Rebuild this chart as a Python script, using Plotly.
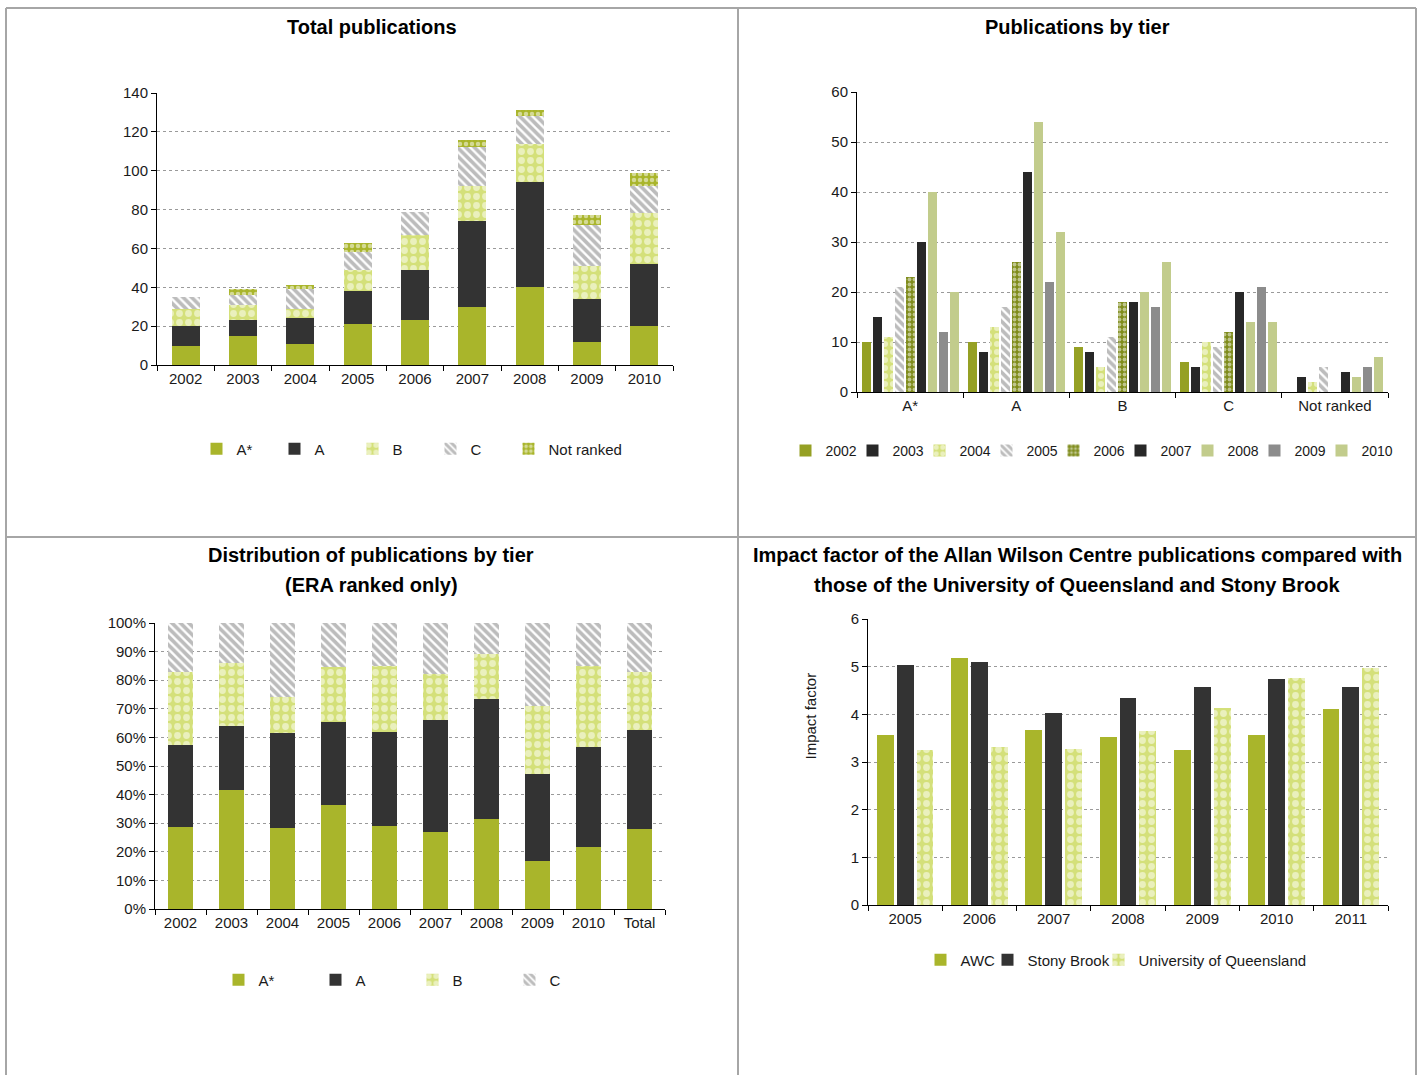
import plotly.graph_objects as go

# ---- data ----
years = ["2002", "2003", "2004", "2005", "2006", "2007", "2008", "2009", "2010"]
tiers = ["A*", "A", "B", "C", "Not ranked"]

a_star = [10, 15, 11, 21, 23, 30, 40, 12, 20]
a_tier = [10, 8, 13, 17, 26, 44, 54, 22, 32]
b_tier = [9, 8, 5, 11, 18, 18, 20, 17, 26]
c_tier = [6, 5, 10, 9, 12, 20, 14, 21, 14]
not_ranked = [0, 3, 2, 5, 0, 4, 3, 5, 7]

dist_cats = years + ["Total"]
pct_a_star = [28.6, 41.7, 28.2, 36.2, 29.1, 26.8, 31.3, 16.7, 21.7, 28.0]
pct_a = [28.6, 22.2, 33.3, 29.3, 32.9, 39.3, 42.2, 30.6, 34.8, 34.7]
pct_b = [25.7, 22.2, 12.8, 19.0, 22.8, 16.1, 15.6, 23.6, 28.3, 20.3]
pct_c = [17.1, 13.9, 25.7, 15.5, 15.2, 17.8, 10.9, 29.1, 15.2, 17.0]

if_years = ["2005", "2006", "2007", "2008", "2009", "2010", "2011"]
awc = [3.56, 5.19, 3.68, 3.53, 3.25, 3.56, 4.12]
stony = [5.03, 5.10, 4.03, 4.34, 4.57, 4.74, 4.57]
uq = [3.25, 3.32, 3.28, 3.65, 4.13, 4.77, 4.97]

# ---- page geometry (pixels of the 1422x1075 window) ----
W, H = 1422, 1075
FONT = "Liberation Sans, Arial, sans-serif"


def px(x):
    return x / W


def py(y):
    return 1 - y / H


OLIVE = "#A9B52B"
DARK = "#333333"
LIGHT = "#D4E07A"
GRAY = "#7A7A7A"


def solid(c):
    return dict(color=c, line=dict(width=0))


def checker(c, size=9, sol=0.45):
    # white holes on a coloured ground, close to Excel's checker fill
    return dict(color=c, line=dict(width=0),
                pattern=dict(shape=".", fillmode="overlay", bgcolor=c, fgcolor="white",
                             size=size, solidity=sol))


def stripes(c):
    return dict(color=c, line=dict(width=0),
                pattern=dict(shape="\\", fgcolor=c, bgcolor="white", size=6, solidity=0.62))


fig = go.Figure()

# Total publications (stacked)
tl_series = [("A*", a_star, solid(OLIVE)), ("A", a_tier, solid(DARK)),
             ("B", b_tier, checker(LIGHT)), ("C", c_tier, stripes(GRAY)),
             ("Not ranked", not_ranked, checker(OLIVE, 6, 0.45))]
for i, (name, vals, mk) in enumerate(tl_series):
    fig.add_trace(go.Bar(x=years, y=vals, name=name, marker=mk, xaxis="x", yaxis="y",
                         offsetgroup="tl", width=0.49, legend="legend",
                         legendwidth=33 if i < 4 else None))

# Publications by tier (grouped)
tr_styles = [solid("#95A024"), solid("#282828"), checker(LIGHT, 8), stripes(GRAY),
             checker("#7F8C1C", 5, 0.45), solid("#282828"), solid("#C2CC8C"), solid("#8C8C8C"),
             solid("#C2CC8C")]
for i, yr in enumerate(years):
    vals = [a_star[i], a_tier[i], b_tier[i], c_tier[i], not_ranked[i]]
    fig.add_trace(go.Bar(x=tiers, y=vals, name=yr, marker=tr_styles[i], xaxis="x2", yaxis="y2",
                         offsetgroup="tr" + yr, legend="legend2",
                         legendwidth=22 if i < len(years) - 1 else 34))

# Distribution (stacked percentages)
bl_series = [("A*", pct_a_star, solid(OLIVE)), ("A", pct_a, solid(DARK)),
             ("B", pct_b, checker(LIGHT)), ("C", pct_c, stripes(GRAY))]
for i, (name, vals, mk) in enumerate(bl_series):
    fig.add_trace(go.Bar(x=dist_cats, y=vals, name=name, marker=mk, xaxis="x3", yaxis="y3",
                         offsetgroup="bl", width=0.5, legend="legend3",
                         legendwidth=52 if i < 3 else None))

# Impact factor (grouped)
br_series = [("AWC", awc, solid(OLIVE), -0.38, 22),
             ("Stony Brook", stony, solid(DARK), -0.113, 66),
             ("University of Queensland", uq, checker(LIGHT), 0.154, None)]
for name, vals, mk, off, lw in br_series:
    fig.add_trace(go.Bar(x=if_years, y=vals, name=name, marker=mk, xaxis="x4", yaxis="y4",
                         offsetgroup="br" + name, offset=off, width=0.226,
                         legend="legend4", legendwidth=lw))

tick_font = dict(family=FONT, size=15, color="#1a1a1a")


def xax(x0, x1, anchor):
    return dict(domain=[px(x0), px(x1)], anchor=anchor, type="category",
                showline=True, linecolor="#000", linewidth=1, ticks="outside",
                tickson="boundaries", ticklen=5, tickcolor="#000", tickfont=tick_font,
                showgrid=False, fixedrange=True, automargin=False)


def yax(y0, y1, anchor, rng, dtick, suffix=""):
    return dict(domain=[py(y1), py(y0)], anchor=anchor, range=rng, dtick=dtick,
                showline=True, linecolor="#000", linewidth=1, ticks="outside", ticklen=5,
                tickcolor="#000", tickfont=tick_font, ticksuffix=suffix,
                showgrid=True, gridcolor="#9a9a9a", griddash="dot", gridwidth=1,
                zeroline=False, fixedrange=True, automargin=False)


def leg(x, y, size=15):
    return dict(orientation="h", font=dict(family=FONT, size=size, color="#1a1a1a"),
                bgcolor="rgba(0,0,0,0)", xanchor="center", yanchor="middle",
                traceorder="normal", x=px(x), y=py(y))


fig.update_layout(
    width=W, height=H, margin=dict(l=0, r=0, t=0, b=0, autoexpand=False),
    paper_bgcolor="white", plot_bgcolor="white",
    barmode="stack", bargap=0.068, bargroupgap=0.18,
    font=dict(family=FONT, size=15, color="#1a1a1a"),
    xaxis=xax(157, 673, "y"), yaxis=yax(93, 365, "x", [0, 140], 20),
    xaxis2=xax(857, 1388, "y2"), yaxis2=yax(92, 392, "x2", [0, 60], 10),
    xaxis3=xax(155, 665, "y3"), yaxis3=yax(623, 909, "x3", [0, 100], 10, "%"),
    xaxis4=xax(868, 1388, "y4"), yaxis4=yax(619, 905, "x4", [0, 6], 1),
    legend=leg(412, 449),
    legend2=leg(1093, 451, 14),
    legend3=leg(392, 980),
    legend4=leg(1116, 960),
)

# titles
title_font = dict(family=FONT, size=20, color="#000")
titles = [(372, 27, "<b>Total publications</b>"),
          (1077, 27, "<b>Publications by tier</b>"),
          (371, 555, "<b>Distribution of publications by tier</b>"),
          (371, 585, "<b>(ERA ranked only)</b>"),
          (1077, 555, "<b>Impact factor of the Allan Wilson Centre publications compared with</b>"),
          (1077, 585, "<b>those of the University of Queensland and Stony Brook</b>")]
for x, y, t in titles:
    fig.add_annotation(x=px(x), y=py(y), xref="paper", yref="paper", text=t,
                       showarrow=False, font=title_font, xanchor="center", yanchor="middle")
fig.add_annotation(x=px(810), y=py(762), xref="paper", yref="paper", text="Impact factor",
                   textangle=-90, showarrow=False, font=dict(family=FONT, size=15, color="#1a1a1a"))

# panel frame
border = dict(color="#A6A6A6", width=2)
for x0, y0, x1, y1 in [(6, 8, 1416, 8), (6, 8, 6, 1080), (1416, 8, 1416, 1080),
                       (738, 8, 738, 1080), (6, 537, 1416, 537)]:
    fig.add_shape(type="line", xref="paper", yref="paper", x0=px(x0), y0=py(y0),
                  x1=px(x1), y1=py(y1), line=border)

fig.write_html("out.html", config={"displayModeBar": False},
               post_script="document.body.style.margin='0';")
